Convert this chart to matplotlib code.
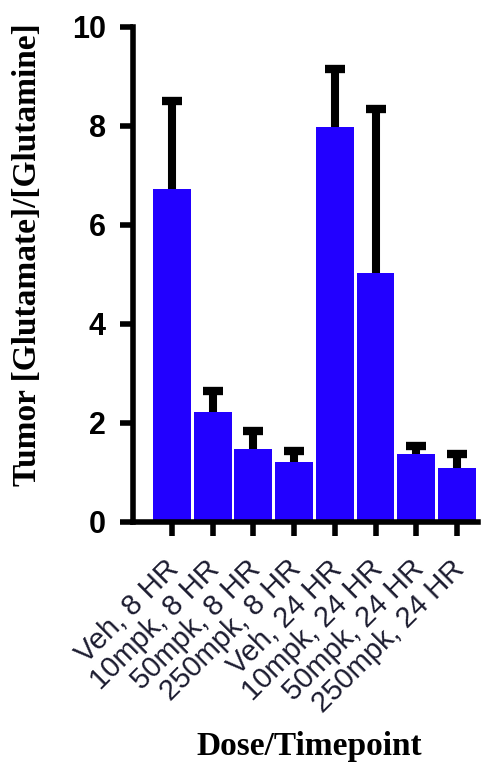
import matplotlib
matplotlib.use('Agg')
import matplotlib.pyplot as plt
import matplotlib.transforms as mtransforms
import numpy as np

# - Data

groups = ['Veh, 8 HR', '10mpk, 8 HR', '50mpk, 8 HR', '250mpk, 8 HR',
          'Veh, 24 HR', '10mpk, 24 HR', '50mpk, 24 HR', '250mpk, 24 HR']
means = [6.72, 2.22, 1.47, 1.21, 7.97, 5.03, 1.37, 1.09]
errors = [1.78, 0.42, 0.36, 0.22, 1.17, 3.30, 0.15, 0.27]
y_ticks = [0, 2, 4, 6, 8, 10]

# - Plot

fig = plt.figure(figsize=(4.83, 7.65), dpi=100)
ax = fig.add_axes([0.275, 0.318, 0.715, 0.647])

x = np.arange(len(groups))
ax.bar(x, means, width=0.93, color='#2200FF', edgecolor='none', zorder=2)
_, caps, _ = ax.errorbar(x, means, yerr=[np.zeros(len(errors)), errors], fmt='none',
                         ecolor='black', elinewidth=5.8, capsize=7.5, capthick=6,
                         zorder=3)
# only the upper half of the error bar is shown
caps[0].remove()

ax.set_xlim(-0.96, 7.52)
ax.set_ylim(0, 10)

for side in ['top', 'right']:
    ax.spines[side].set_visible(False)
for side in ['left', 'bottom']:
    ax.spines[side].set_linewidth(4)
    ax.spines[side].set_zorder(4)

ax.set_yticks(y_ticks)
ax.set_yticklabels([str(t) for t in y_ticks], fontfamily='Liberation Sans',
                   fontweight='bold', fontsize=22)
ax.tick_params(axis='y', direction='out', length=9.5, width=4, pad=10)

ax.set_xticks(x)
ax.set_xticklabels(groups, rotation=45, ha='right', rotation_mode='anchor',
                   fontfamily='Liberation Sans', fontsize=21, color='#1c1c30')
ax.tick_params(axis='x', direction='out', length=10, width=4, pad=14)
# nudge the slanted labels a little to the left
shift = mtransforms.ScaledTranslation(-0.07, 0, fig.dpi_scale_trans)
for lbl in ax.get_xticklabels():
    lbl.set_transform(lbl.get_transform() + shift)

fig.text(28 / 483, 0.667, 'Tumor [Glutamate]/[Glutamine]', rotation=90,
         ha='center', va='center', fontfamily='Liberation Serif',
         fontweight='bold', fontsize=24)
fig.text(309 / 483, 0.024, 'Dose/Timepoint', ha='center', va='center',
         fontfamily='Liberation Serif', fontweight='bold', fontsize=24)

fig.savefig('out.png', dpi=100)
